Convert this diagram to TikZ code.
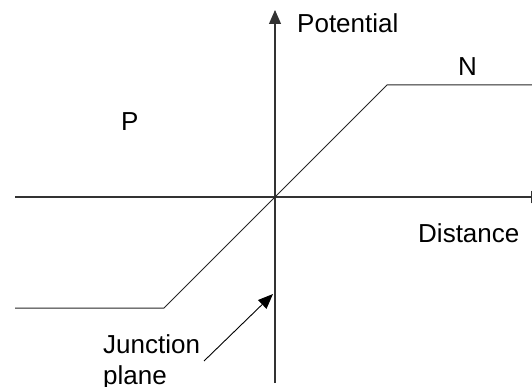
\documentclass[tikz,border=0pt]{standalone}
\usepackage{fontspec}
\setmainfont{Liberation Sans}
\usetikzlibrary{arrows.meta}
\begin{document}
\begin{tikzpicture}[x=1pt,y=-1pt,
  axis/.style={line width=1.1pt, draw=black!80},
  curve/.style={line width=1pt, draw=black!85, line join=miter},
  tip/.style={-{Triangle[length=14pt,width=12pt]}},
  lbl/.style={font=\fontsize{26}{31}\selectfont, inner sep=0pt, anchor=base west}]
\useasboundingbox (0,0) rectangle (532,387);

% axes
\coordinate (O)  at (275,197);
\coordinate (xl) at (15,197);
\coordinate (xr) at (545,197);
\coordinate (yb) at (275,383);
\coordinate (yt) at (275,10);
\draw[axis,tip] (xl) -- (xr);
\draw[axis,tip] (yb) -- (yt);

% potential across the junction
\coordinate (p0) at (15,308);
\coordinate (p1) at (164,308);
\coordinate (n1) at (387,85);
\coordinate (n0) at (532,85);
\draw[curve] (p0) -- (p1) -- (O) -- (n1) -- (n0);

% labels
\node[lbl] (pot)  at (297,33)  {Potential};
\node[lbl] (nreg) at (458,76)  {N};
\node[lbl] (preg) at (121,131) {P};
\node[lbl] (dist) at (418,242) {Distance};
\node[lbl, align=left, anchor=north west] (jp) at (103,334) {Junction\\plane};

% junction plane pointer
\coordinate (jpt) at (273,294);
\draw[line width=0.9pt, -{Triangle[length=15pt,width=12pt]}] (204,361) -- (jpt);
\end{tikzpicture}
\end{document}
